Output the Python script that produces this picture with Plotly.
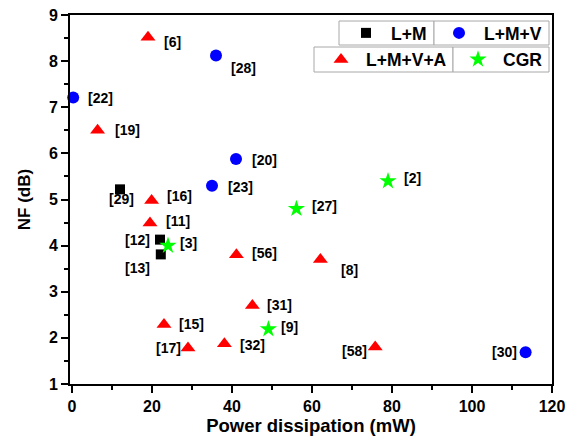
import plotly.graph_objects as go

# ---- data ----
lm_x = [12, 22, 22.2]
lm_y = [5.22, 4.13, 3.81]
lm_ref = ["[29]", "[12]", "[13]"]

lmv_x = [0.3, 36, 41, 35, 113.4]
lmv_y = [7.21, 8.12, 5.88, 5.30, 1.69]
lmv_ref = ["[22]", "[28]", "[20]", "[23]", "[30]"]

lmva_x = [19, 6.4, 19.9, 19.5, 41.1, 62.1, 45.1, 23.0, 29.0, 38.1, 75.8]
lmva_y = [8.52, 6.50, 4.98, 4.49, 3.80, 3.70, 2.70, 2.29, 1.78, 1.87, 1.80]
lmva_ref = ["[6]", "[19]", "[16]", "[11]", "[56]", "[8]", "[31]", "[15]", "[17]", "[32]", "[58]"]

cgr_x = [24.0, 79.0, 56.1, 49.1]
cgr_y = [4.0, 5.40, 4.80, 2.19]
cgr_ref = ["[3]", "[2]", "[27]", "[9]"]

x_ticks = [0, 20, 40, 60, 80, 100, 120]
x_minor = [10, 30, 50, 70, 90, 110]
y_ticks = [1, 2, 3, 4, 5, 6, 7, 8, 9]
y_minor = [1.5, 2.5, 3.5, 4.5, 5.5, 6.5, 7.5, 8.5]

# label placement (anchor, xshift px, yshift px)
label_pos = {
    "[29]": ("center", 1, -10), "[12]": ("right", -8, 0), "[13]": ("right", -9, -14),
    "[22]": ("left", 13, 0), "[28]": ("left", 13, -12), "[20]": ("left", 14, -1),
    "[23]": ("left", 14, -1), "[30]": ("right", -7, 0),
    "[6]": ("left", 14, -5), "[19]": ("left", 15, 0), "[16]": ("left", 13, 4),
    "[11]": ("left", 14, 2), "[56]": ("left", 14, 2), "[8]": ("left", 19, -11),
    "[31]": ("left", 13, 1), "[15]": ("left", 13, 1), "[17]": ("right", -5, 0),
    "[32]": ("left", 14, -1), "[58]": ("right", -6, -4),
    "[3]": ("left", 10, 3), "[2]": ("left", 14, 3), "[27]": ("left", 14, 3), "[9]": ("left", 11, 2),
}

FONT = "Liberation Sans, Arial, sans-serif"
W, H = 578, 441
ML, MR, MT, MB = 70, 26, 15, 57

series = [
    ("L+M", lm_x, lm_y, lm_ref, "square", "#000000", 10, "legend"),
    ("L+M+V", lmv_x, lmv_y, lmv_ref, "circle", "#0000FF", 12, "legend2"),
    ("L+M+V+A", lmva_x, lmva_y, lmva_ref, "triangle-up", "#FF0000", 13, "legend3"),
    ("CGR", cgr_x, cgr_y, cgr_ref, "star", "#00FF00", 13, "legend4"),
]

fig = go.Figure()
annotations = []
for name, xs, ys, refs, sym, col, sz, lg in series:
    fig.add_trace(go.Scatter(
        x=xs, y=ys, mode="markers", name=name, legend=lg,
        marker=dict(symbol=sym, color=col, size=sz, line=dict(width=0)),
        cliponaxis=False,
    ))
    for xv, yv, r in zip(xs, ys, refs):
        anc, dx, dy = label_pos[r]
        annotations.append(dict(
            x=xv, y=yv, xref="x", yref="y", text="<b>%s</b>" % r, showarrow=False,
            xanchor=anc, yanchor="middle", xshift=dx, yshift=dy,
            font=dict(family=FONT, size=14, color="black"),
        ))


def pxx(px):
    return (px - ML) / (W - ML - MR)


def pxy(py):
    return 1 - (py - MT) / (H - MT - MB)


leg_common = dict(
    bgcolor="rgba(0,0,0,0)", borderwidth=0, itemwidth=40,
    font=dict(family=FONT, size=17.5, color="black", weight="bold"),
    orientation="h", xref="paper", yref="paper", yanchor="middle", xanchor="left",
    itemclick=False, itemdoubleclick=False,
)

# legend boxes (pixel rectangles)
boxes = [(339, 21, 434, 45), (434, 21, 549, 45), (314, 47, 453, 72), (453, 47, 549, 72)]
shapes = [dict(type="rect", xref="paper", yref="paper", x0=pxx(a), x1=pxx(c), y0=pxy(d), y1=pxy(b),
               line=dict(color="#A8A8A8", width=1), fillcolor="white", layer="above")
          for a, b, c, d in boxes]

fig.update_layout(
    width=W, height=H,
    margin=dict(l=ML, r=MR, t=MT, b=MB, autoexpand=False),
    plot_bgcolor="white", paper_bgcolor="white",
    showlegend=True,
    legend=dict(leg_common, x=pxx(341), y=pxy(33)),
    legend2=dict(leg_common, x=pxx(434), y=pxy(33)),
    legend3=dict(leg_common, x=pxx(316), y=pxy(59.5)),
    legend4=dict(leg_common, x=pxx(453), y=pxy(59.5)),
    annotations=annotations,
    shapes=shapes,
    font=dict(family=FONT, color="black"),
)

fig.update_xaxes(
    range=[-0.5, 120], tickvals=x_ticks,
    showgrid=False, zeroline=False, showline=True, linecolor="black", linewidth=2, mirror=True,
    ticks="outside", ticklen=7, tickwidth=2, tickcolor="black",
    minor=dict(tickvals=x_minor, ticks="outside", ticklen=4, tickwidth=2, tickcolor="black"),
    tickfont=dict(family=FONT, size=16, color="black", weight="bold"),
    title=dict(text="<b>Power dissipation (mW)</b>", font=dict(family=FONT, size=18.5, color="black"), standoff=4),
)
fig.update_yaxes(
    range=[1, 9], tickvals=y_ticks,
    showgrid=False, zeroline=False, showline=True, linecolor="black", linewidth=2, mirror=True,
    ticks="outside", ticklen=7, tickwidth=2, tickcolor="black",
    minor=dict(tickvals=y_minor, ticks="outside", ticklen=4, tickwidth=2, tickcolor="black"),
    tickfont=dict(family=FONT, size=16, color="black", weight="bold"),
    title=dict(text="<b>NF (dB)</b>", font=dict(family=FONT, size=17, color="black"), standoff=14),
)

fig.write_html("out.html")
